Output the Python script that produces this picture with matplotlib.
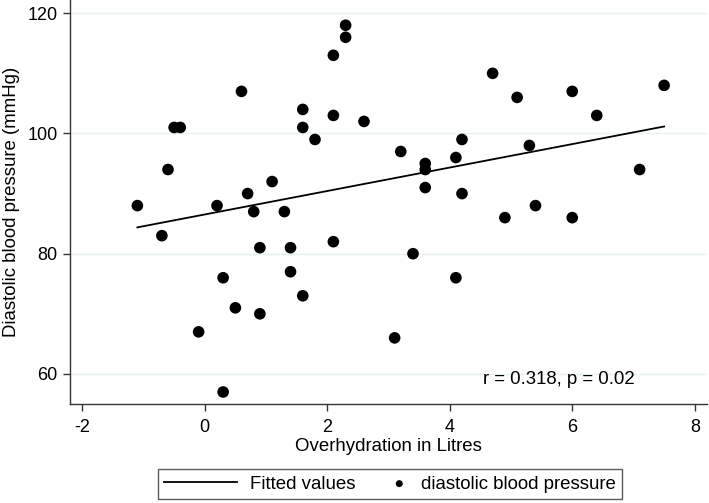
import numpy as np
import matplotlib
matplotlib.use("Agg")
import matplotlib.pyplot as plt
from matplotlib.legend_handler import HandlerPathCollection

plt.rcParams['font.family'] = ['Liberation Sans', 'DejaVu Sans']
plt.rcParams['axes.unicode_minus'] = False

# overhydration (L) and diastolic blood pressure (mmHg)
overhydration = [-1.1, -0.7, -0.6, -0.5, -0.4, -0.1, 0.2, 0.3, 0.3, 0.5,
                 0.6, 0.7, 0.8, 0.9, 0.9, 1.1, 1.3, 1.4, 1.4, 1.6,
                 1.6, 1.6, 1.8, 2.1, 2.1, 2.1, 2.3, 2.3, 2.6, 3.1,
                 3.2, 3.4, 3.6, 3.6, 3.6, 4.1, 4.1, 4.2, 4.2, 4.7,
                 4.9, 5.1, 5.3, 5.4, 6.0, 6.0, 6.4, 7.1, 7.5]
diastolic = [88, 83, 94, 101, 101, 67, 88, 76, 57, 71,
             107, 90, 87, 81, 70, 92, 87, 81, 77, 104,
             101, 73, 99, 113, 103, 82, 118, 116, 102, 66,
             97, 80, 95, 94, 91, 96, 76, 99, 90, 110,
             86, 106, 98, 88, 107, 86, 103, 94, 108]
x_ticks = [-2, 0, 2, 4, 6, 8]
y_ticks = [60, 80, 100, 120]

x = np.array(overhydration)
y = np.array(diastolic)
slope, intercept = np.polyfit(x, y, 1)
xf = np.array([x.min(), x.max()])
yf = intercept + slope * xf


# narrow handle box for the dot in the legend
class DotHandler(HandlerPathCollection):
    def legend_artist(self, legend, orig_handle, fontsize, handlebox):
        handlebox.width = 0.9 * fontsize
        return super().legend_artist(legend, orig_handle, fontsize, handlebox)


fig = plt.figure(figsize=(7.09, 5.03), dpi=100)
ax = fig.add_axes([70/709, 1 - 404/503, 637/709, 404/503])

for yt in y_ticks:
    ax.axhline(yt, color='#e6eff1', lw=1, zorder=0)

ax.plot(xf, yf, color='black', lw=1.3, label='Fitted values', zorder=2)
sc = ax.scatter(x, y, s=70, color='black', edgecolors='none',
                label='diastolic blood pressure', zorder=3)

ax.set_xlim(-2.2, 8.2)
ax.set_ylim(55, 122.2)
ax.set_xticks(x_ticks)
ax.set_yticks(y_ticks)
ax.tick_params(labelsize=13, length=5, width=1, color='#333333')
ax.tick_params(axis='x', pad=6)
ax.tick_params(axis='y', pad=4)
for s in ['top', 'right']:
    ax.spines[s].set_visible(False)
for s in ['left', 'bottom']:
    ax.spines[s].set_color('#333333')
    ax.spines[s].set_linewidth(1)

ax.set_xlabel('Overhydration in Litres', fontsize=13.4, labelpad=1)
ax.set_ylabel('Diastolic blood pressure (mmHg)', fontsize=13.4, labelpad=5)

fig.text(559/709, 1 - 380/503, 'r = 0.318, p = 0.02', fontsize=13.4,
         ha='center', va='center')

h, l = ax.get_legend_handles_labels()
leg = fig.legend(h, l, loc='center', bbox_to_anchor=(390/709, 1 - 484/503),
                 ncol=2, fontsize=13.4, frameon=True, fancybox=False,
                 edgecolor='#333333', handlelength=3.9, markerscale=0.6,
                 columnspacing=1.9, borderpad=0.35, handletextpad=0.7,
                 borderaxespad=0.3, handler_map={sc: DotHandler()})
leg.get_frame().set_linewidth(1)

fig.savefig('out.png', dpi=100)
